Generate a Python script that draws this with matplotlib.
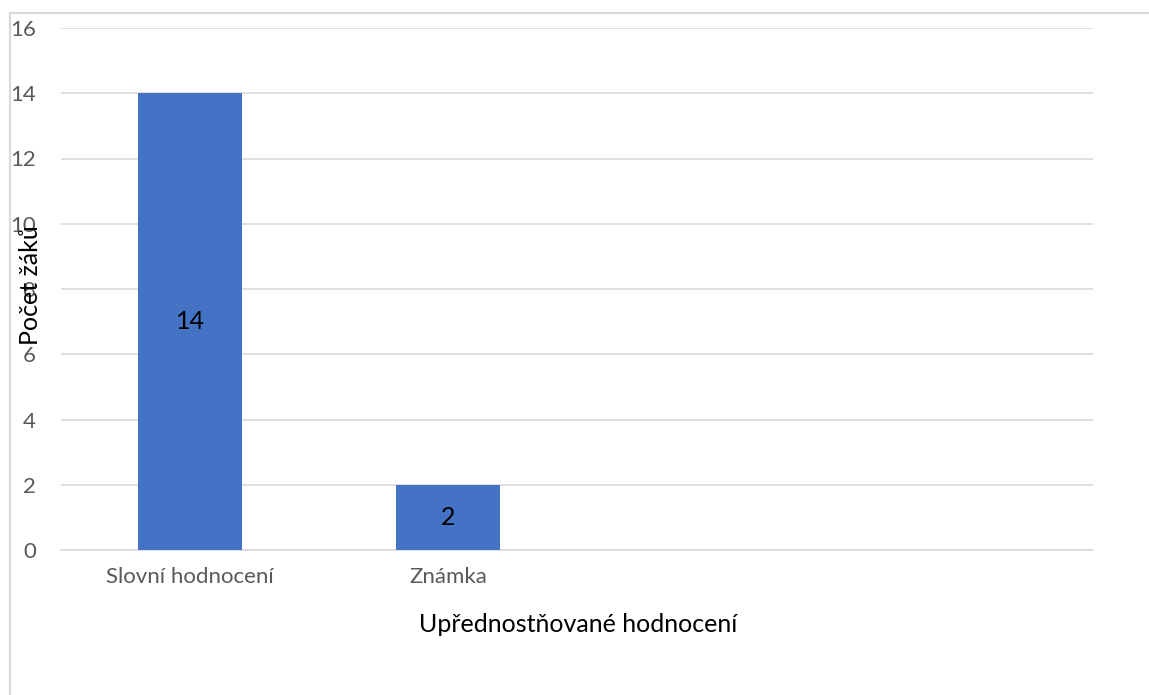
import numpy as np
import matplotlib.pyplot as plt
from matplotlib.lines import Line2D

categories = ['Slovní hodnocení', 'Známka', '', '']
values = [14, 2, None, None]
yticks = [0, 2, 4, 6, 8, 10, 12, 14, 16]

plt.rcParams['font.family'] = ['Lato', 'DejaVu Sans']

W, H = 1149, 695
fig = plt.figure(figsize=(W / 100, H / 100), dpi=100)
ax = fig.add_axes([61 / W, 1 - 550 / H, (1093 - 61) / W, (550 - 28) / H])

x = np.arange(len(categories))
shown = [(i, v) for i, v in enumerate(values) if v is not None]
bars = ax.bar([i for i, v in shown], [v for i, v in shown], width=0.4,
              color='#4472c4', zorder=3)
for b, (i, v) in zip(bars, shown):
    ax.text(b.get_x() + b.get_width() / 2, v / 2, str(v), ha='center',
            va='center', fontsize=18, color='black', zorder=4)

ax.set_xlim(-0.5, len(categories) - 0.5)
ax.set_ylim(0, 16)
ax.set_yticks(yticks)
ax.set_xticks(x)
ax.set_xticklabels(categories)
ax.yaxis.grid(True, color='#d9d9d9', linewidth=1.2, zorder=0)
for s in ['top', 'right', 'left']:
    ax.spines[s].set_visible(False)
ax.spines['bottom'].set_color('#d9d9d9')
ax.spines['bottom'].set_linewidth(1.2)
ax.tick_params(axis='both', length=0, labelsize=16, labelcolor='#595959')
ax.tick_params(axis='y', pad=18)
ax.tick_params(axis='x', pad=12)

fig.text(31 / W, 1 - 285 / H, 'Počet žáků', rotation=90, ha='center',
         va='center', fontsize=18, color='black')
fig.text(578 / W, 1 - 625 / H, 'Upřednostňované hodnocení', ha='center',
         va='center', fontsize=18, color='black')

# chart frame (cropped)
fig.add_artist(Line2D([10 / W, 10 / W], [0, 1 - 13 / H], color='#d9d9d9',
                      linewidth=1.5, transform=fig.transFigure))
fig.add_artist(Line2D([10 / W, 1], [1 - 13 / H, 1 - 13 / H], color='#d9d9d9',
                      linewidth=1.5, transform=fig.transFigure))

fig.savefig('out.png', dpi=100)
